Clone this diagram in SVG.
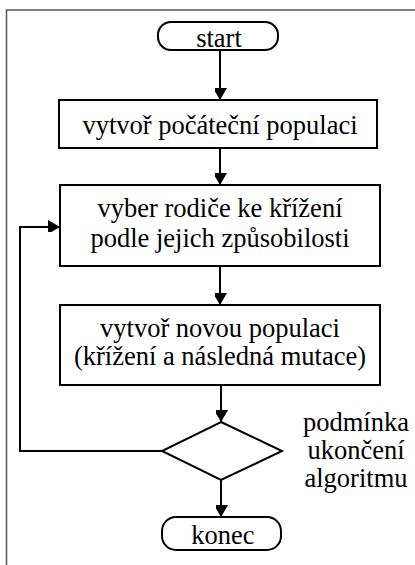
<svg xmlns="http://www.w3.org/2000/svg" width="415" height="565" viewBox="0 0 415 565">
<style>
.shape{fill:#fff;stroke:#000;stroke-width:2}
.line{fill:none;stroke:#000;stroke-width:2}
text{font-family:'Liberation Serif',Tinos,'Times New Roman',Times,'DejaVu Serif',serif;font-size:26.5px;fill:#000;text-anchor:middle}
.frame{fill:none;stroke:#555;stroke-width:1.5}
</style>
<defs>
<marker id="arr" markerWidth="14" markerHeight="12" refX="12" refY="7" orient="auto" markerUnits="userSpaceOnUse">
<path d="M0,0 L12,7 L0,14 Z" fill="#000"/>
</marker>
</defs>
<path class="frame" d="M6.5,565 V10 H415"/>
<g id="connectors">
<line class="line" x1="220" y1="50" x2="220" y2="100" marker-end="url(#arr)"/>
<line class="line" x1="220" y1="148" x2="220" y2="185" marker-end="url(#arr)"/>
<line class="line" x1="220" y1="266" x2="220" y2="305" marker-end="url(#arr)"/>
<line class="line" x1="221" y1="385" x2="221" y2="422" marker-end="url(#arr)"/>
<line class="line" x1="221" y1="480" x2="221" y2="517" marker-end="url(#arr)"/>
<polyline class="line" points="162,451 20,451 20,227 60,227" marker-end="url(#arr)"/>
</g>
<g id="start">
<rect class="shape" x="158" y="22" width="120" height="28" rx="13" ry="13"/>
<text x="219" y="47">start</text>
</g>
<g id="init">
<rect class="shape" x="59" y="100" width="318" height="48"/>
<text x="220" y="134">vytvoř počáteční populaci</text>
</g>
<g id="select">
<rect class="shape" x="60" y="185" width="320" height="81"/>
<text x="220" y="217">vyber rodiče ke křížení</text>
<text x="220" y="247">podle jejich způsobilosti</text>
</g>
<g id="newpop">
<rect class="shape" x="60" y="305" width="320" height="80"/>
<text x="220" y="337">vytvoř novou populaci</text>
<text x="220" y="365">(křížení a následná mutace)</text>
</g>
<g id="cond">
<polygon class="shape" points="221,422 282,451 221,480 162,451"/>
<text x="356" y="431">podmínka</text>
<text x="356" y="459">ukončení</text>
<text x="356" y="487">algoritmu</text>
</g>
<g id="end">
<rect class="shape" x="162" y="517" width="119" height="33" rx="14" ry="14"/>
<text x="223" y="544">konec</text>
</g>
</svg>
